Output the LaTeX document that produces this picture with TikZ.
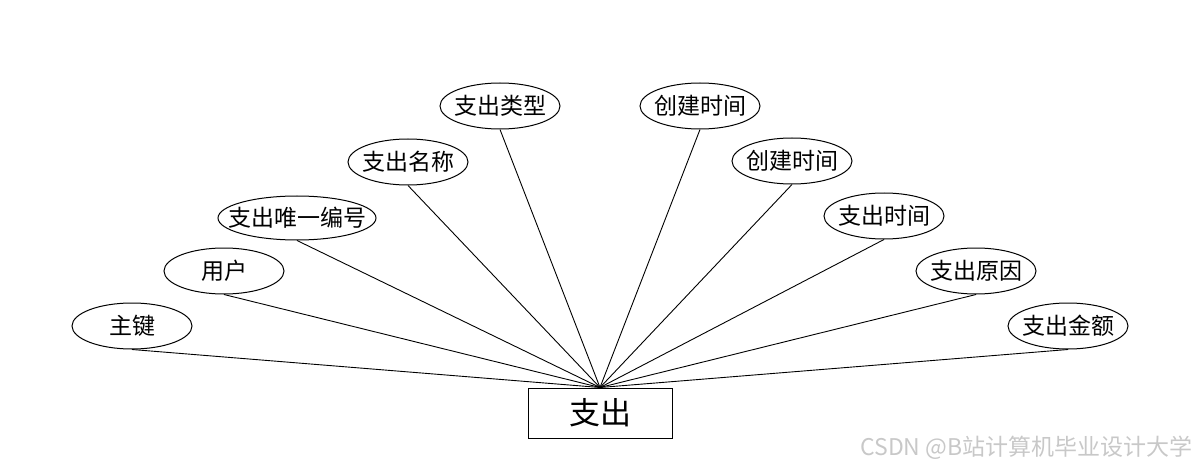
\documentclass[tikz,border=0pt]{standalone}
\usepackage{fontspec}
\setmainfont{Noto Sans CJK SC}
\usetikzlibrary{shapes.geometric, positioning}
\definecolor{wmark}{RGB}{200,200,200}

\begin{document}
\begin{tikzpicture}[
    x=1pt, y=-1pt,
    attr/.style={ellipse, draw, line width=1pt, inner sep=0pt,
      minimum width=120, minimum height=46, font=\fontsize{23}{26}\selectfont},
    entity/.style={rectangle, draw, line width=1pt, inner sep=0pt,
      minimum width=144, minimum height=50, font=\fontsize{31}{34}\selectfont},
    link/.style={line width=0.9pt},
]
\useasboundingbox (0,0) rectangle (1200,468);

% ===== Entity =====
\node[entity] (zhichu) at (600,413) {支出};

% ===== Attributes, left half =====
\node[attr] (zhujian) at (132,326) {\makebox[0pt]{主键}};
\node[attr] (yonghu) at (224,271) {\makebox[0pt]{用户}};
\node[attr, minimum width=158, minimum height=44] (bianhao) at (297,218) {\makebox[0pt]{支出唯一编号}};
\node[attr] (mingcheng) at (408,162) {\makebox[0pt]{支出名称}};
\node[attr] (leixing) at (500,106) {\makebox[0pt]{支出类型}};

% ===== Attributes, right half =====
\node[attr] (chuangjianA) at (700,106) {\makebox[0pt]{创建时间}};
\node[attr] (chuangjianB) at (792,161) {\makebox[0pt]{创建时间}};
\node[attr] (shijian) at (884,216) {\makebox[0pt]{支出时间}};
\node[attr] (yuanyin) at (976,271) {\makebox[0pt]{支出原因}};
\node[attr] (jine) at (1068,326) {\makebox[0pt]{支出金额}};

% ===== Connectors =====
\foreach \a in {zhujian, yonghu, bianhao, mingcheng, leixing,
                chuangjianA, chuangjianB, shijian, yuanyin, jine}{
  \draw[link] (\a.south) -- (zhichu.north);
}

% ===== Watermark =====
\node[font=\fontsize{23}{26}\selectfont, text=wmark, anchor=east] (wm) at (1196,448)
  {CSDN @B站计算机毕业设计大学};

\end{tikzpicture}
\end{document}
